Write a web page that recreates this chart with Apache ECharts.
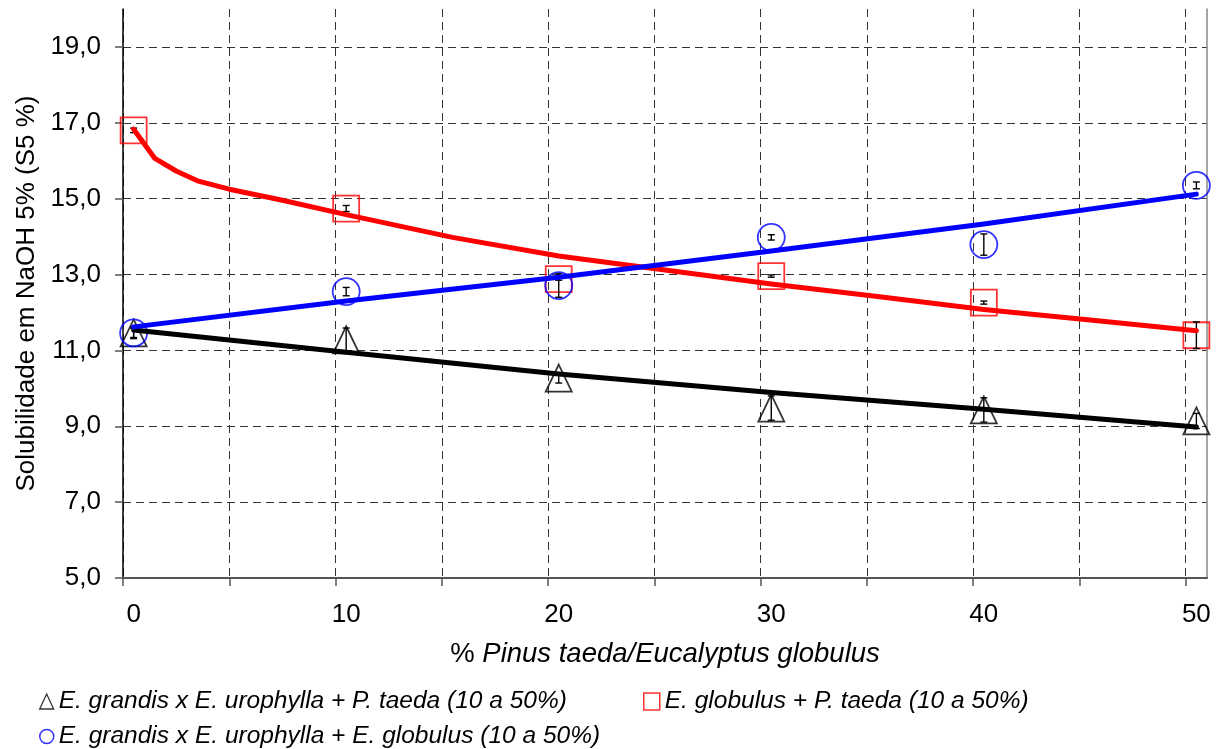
<!DOCTYPE html>
<html>
<head>
<meta charset="utf-8">
<script src="https://cdn.jsdelivr.net/npm/echarts@6/dist/echarts.min.js"></script>
<style>
  html, body { margin: 0; padding: 0; background: #fff; }
  #chart { width: 1223px; height: 749px; }
</style>
</head>
<body>
<div id="chart"></div>
<script>
// ---- data ----
const xValues = [0, 10, 20, 30, 40, 50];
const xTickLabels = [0, 10, 20, 30, 40, 50];
const xGridValues = [-0.5, 4.5, 9.5, 14.5, 19.5, 24.5, 29.5, 34.5, 39.5, 44.5, 49.5];
const yTickLabels = [5, 7, 9, 11, 13, 15, 17, 19];

const seriesNames = [
  'E. grandis x E. urophylla + P. taeda (10 a 50%)',
  'E. globulus + P. taeda (10 a 50%)',
  'E. grandis x E. urophylla + E. globulus (10 a 50%)'
];

const triValues = [11.46, 11.28, 10.27, 9.48, 9.43, 9.14];
const triErrors = [0.15, 0.31, 0.13, 0.32, 0.32, 0.20];
const sqValues = [16.80, 14.74, 12.88, 12.96, 12.26, 11.40];
const sqErrors = [0.06, 0.08, 0.03, 0.03, 0.04, 0.35];
const circValues = [11.46, 12.55, 12.71, 13.98, 13.79, 15.35];
const circErrors = [0.12, 0.11, 0.31, 0.07, 0.28, 0.09];

const blackTrendX = [0, 10, 20, 30, 40, 50];
const blackTrendY = [11.54, 10.95, 10.38, 9.89, 9.45, 8.98];
const redTrendX = [0, 1, 2, 3, 4.5, 7, 10, 15, 20, 25, 30, 35, 40, 45, 50];
const redTrendY = [16.83, 16.06, 15.73, 15.47, 15.25, 14.96, 14.58, 13.98, 13.49, 13.12, 12.75, 12.42, 12.08, 11.80, 11.52];
const blueTrendX = [0, 10, 20, 30, 40, 50];
const blueTrendY = [11.62, 12.30, 12.93, 13.62, 14.33, 15.12];

// ---- chart ----
const FONT = 'Liberation Sans, Arial, sans-serif';
const chart = echarts.init(document.getElementById('chart'), null, { renderer: 'canvas' });

function pairs(xs, ys) { return xs.map((x, i) => [x, ys[i]]); }

function errSeries(name, ys, errs) {
  return {
    type: 'custom',
    name: name + ' err',
    silent: true,
    z: 3,
    data: xValues.map((x, i) => [x, ys[i] - errs[i], ys[i] + errs[i]]),
    encode: { x: 0, y: [1, 2] },
    renderItem: function (params, api) {
      const x = api.value(0);
      const lo = api.coord([x, api.value(1)]);
      const hi = api.coord([x, api.value(2)]);
      const w = 3.5;
      const st = { stroke: '#000', lineWidth: 1.4 };
      return {
        type: 'group',
        children: [
          { type: 'line', shape: { x1: lo[0], y1: lo[1], x2: hi[0], y2: hi[1] }, style: st },
          { type: 'line', shape: { x1: lo[0] - w, y1: lo[1], x2: lo[0] + w, y2: lo[1] }, style: st },
          { type: 'line', shape: { x1: hi[0] - w, y1: hi[1], x2: hi[0] + w, y2: hi[1] }, style: st }
        ]
      };
    }
  };
}

function trendSeries(xs, ys, color) {
  return {
    type: 'line',
    data: pairs(xs, ys),
    showSymbol: false,
    symbol: 'none',
    silent: true,
    z: 4,
    lineStyle: { color: color, width: 5, cap: 'round', join: 'round' },
    itemStyle: { color: color }
  };
}

const legendBase = {
  orient: 'horizontal',
  itemGap: 10,
  selectedMode: false,
  textStyle: { fontFamily: FONT, fontSize: 24.5, fontStyle: 'italic', color: '#000' }
};

const option = {
  animation: false,
  backgroundColor: '#fff',
  grid: { left: 123, right: 16, top: 9, bottom: 171, containLabel: false },
  legend: [
    Object.assign({}, legendBase, {
      left: 34, top: 684, itemWidth: 14, itemHeight: 15,
      data: [{ name: seriesNames[0], icon: 'triangle',
        itemStyle: { color: 'transparent', borderColor: '#000', borderWidth: 1.3 } }]
    }),
    Object.assign({}, legendBase, {
      left: 638, top: 684, itemWidth: 16, itemHeight: 17,
      data: [{ name: seriesNames[1], icon: 'rect',
        itemStyle: { color: 'transparent', borderColor: '#ff0000', borderWidth: 1.5 } }]
    }),
    Object.assign({}, legendBase, {
      left: 34, top: 719, itemWidth: 14, itemHeight: 15,
      data: [{ name: seriesNames[2], icon: 'circle',
        itemStyle: { color: 'transparent', borderColor: '#0000ff', borderWidth: 1.5 } }]
    })
  ],
  xAxis: {
    type: 'value',
    min: -0.5,
    max: 50.5,
    name: '{a|% }{b|Pinus taeda/Eucalyptus globulus}',
    nameLocation: 'middle',
    nameGap: 62,
    nameTextStyle: {
      rich: {
        a: { fontFamily: FONT, fontSize: 27.5, color: '#000', fontStyle: 'normal' },
        b: { fontFamily: FONT, fontSize: 27.5, color: '#000', fontStyle: 'italic' }
      }
    },
    axisLine: { onZero: false, lineStyle: { color: '#555', width: 2 } },
    axisTick: { show: true, length: 8, lineStyle: { color: '#555', width: 1.5 }, customValues: xGridValues },
    axisLabel: {
      customValues: xTickLabels,
      fontFamily: FONT, fontSize: 26, color: '#000', margin: 24,
      formatter: v => String(v)
    },
    splitLine: { show: true, lineStyle: { color: '#333', width: 1, type: [8, 5] } }
  },
  yAxis: [
    {
      type: 'value',
      min: 5,
      max: 20,
      name: 'Solubilidade em NaOH 5% (S5 %)',
      nameLocation: 'middle',
      nameGap: 78,
      nameTextStyle: { fontFamily: FONT, fontSize: 26, color: '#000' },
      axisLine: { show: true, onZero: false, lineStyle: { color: '#000', width: 1.5 } },
      axisTick: { show: true, length: 8, lineStyle: { color: '#555', width: 1.5 }, customValues: yTickLabels },
      axisLabel: {
        customValues: yTickLabels,
        fontFamily: FONT, fontSize: 26, color: '#000', margin: 22,
        formatter: v => v.toFixed(1).replace('.', ',')
      },
      splitLine: { show: true, lineStyle: { color: '#333', width: 1, type: [8, 5] } }
    },
    {
      type: 'value',
      position: 'right',
      min: 5,
      max: 20,
      axisLine: { show: true, onZero: false, lineStyle: { color: '#888', width: 1.5 } },
      axisTick: { show: false },
      axisLabel: { show: false },
      splitLine: { show: false }
    }
  ],
  series: [
    {
      type: 'scatter',
      name: seriesNames[0],
      data: pairs(xValues, triValues),
      symbol: 'triangle',
      symbolSize: [26, 27],
      z: 2,
      itemStyle: { color: 'transparent', borderColor: '#000', borderWidth: 1.8 }
    },
    {
      type: 'scatter',
      name: seriesNames[1],
      data: pairs(xValues, sqValues),
      symbol: 'rect',
      symbolSize: [26, 26],
      z: 2,
      itemStyle: { color: 'transparent', borderColor: '#ff0000', borderWidth: 1.8 }
    },
    {
      type: 'scatter',
      name: seriesNames[2],
      data: pairs(xValues, circValues),
      symbol: 'circle',
      symbolSize: 27,
      z: 2,
      itemStyle: { color: 'transparent', borderColor: '#0000ff', borderWidth: 1.8 }
    },
    errSeries('tri', triValues, triErrors),
    errSeries('sq', sqValues, sqErrors),
    errSeries('circ', circValues, circErrors),
    trendSeries(blackTrendX, blackTrendY, '#000000'),
    trendSeries(redTrendX, redTrendY, '#ff0000'),
    trendSeries(blueTrendX, blueTrendY, '#0000ff')
  ]
};

chart.setOption(option);
</script>
</body>
</html>
